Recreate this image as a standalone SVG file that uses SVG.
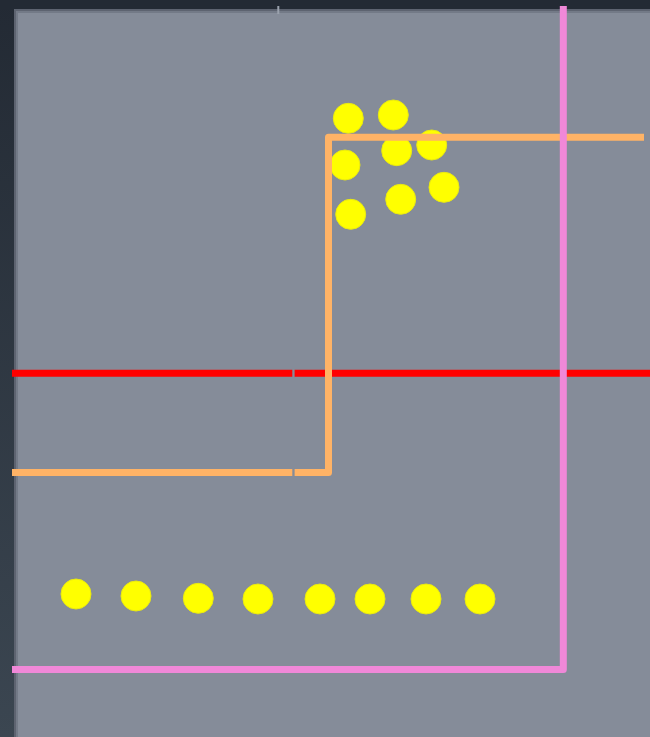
<svg xmlns="http://www.w3.org/2000/svg" width="650" height="737" viewBox="0 0 650 737">
<defs>
<linearGradient id="bgL" x1="0" y1="0" x2="0" y2="1">
<stop offset="0" stop-color="#232a34"/>
<stop offset="1" stop-color="#3b4651"/>
</linearGradient>
<style>
.ln{fill:none;stroke-width:7;stroke-linejoin:round;stroke-linecap:butt}
.dot{fill:#ffff00;stroke:#eaea10;stroke-width:1}
.gap{fill:#858c99}
</style>
</defs>
<rect width="650" height="737" fill="url(#bgL)"/>
<rect x="0" y="0" width="650" height="10" fill="#232a34"/>
<rect x="14" y="9" width="636" height="728" fill="#5d6370"/>
<rect x="16" y="11" width="634" height="726" fill="#737a87"/>
<rect x="18" y="13" width="632" height="724" fill="#858c99"/>
<rect x="277.3" y="6" width="2" height="8" fill="#9aa1ad"/>
<g id="dots">
<circle class="dot" cx="348.3" cy="118.3" r="15"/>
<circle class="dot" cx="393.3" cy="115" r="15"/>
<circle class="dot" cx="431.7" cy="145" r="15"/>
<circle class="dot" cx="396.7" cy="150.7" r="15"/>
<circle class="dot" cx="345" cy="165" r="15"/>
<circle class="dot" cx="444" cy="187.3" r="15"/>
<circle class="dot" cx="400.7" cy="199.3" r="15"/>
<circle class="dot" cx="350.7" cy="214.3" r="15"/>
<circle class="dot" cx="76" cy="594" r="15"/>
<circle class="dot" cx="136" cy="596" r="15"/>
<circle class="dot" cx="198.3" cy="598.3" r="15"/>
<circle class="dot" cx="258" cy="599" r="15"/>
<circle class="dot" cx="320" cy="599" r="15"/>
<circle class="dot" cx="370" cy="599" r="15"/>
<circle class="dot" cx="426" cy="599" r="15"/>
<circle class="dot" cx="480" cy="599" r="15"/>
</g>
<g id="connectors">
<path id="red" class="ln" stroke="#ff0000" d="M12 373.2H650"/>
<path id="orange" class="ln" stroke="#ffb366" stroke-width="8" d="M12 472.5H328.5V137.3H644"/>
<path id="pink" class="ln" stroke="#f088d8" stroke-width="8" d="M12 669.6H563.3V6"/>
<rect class="gap" x="292.3" y="369" width="2.3" height="8.5"/>
<rect class="gap" x="292.3" y="468" width="2.3" height="9"/>
</g>
</svg>
